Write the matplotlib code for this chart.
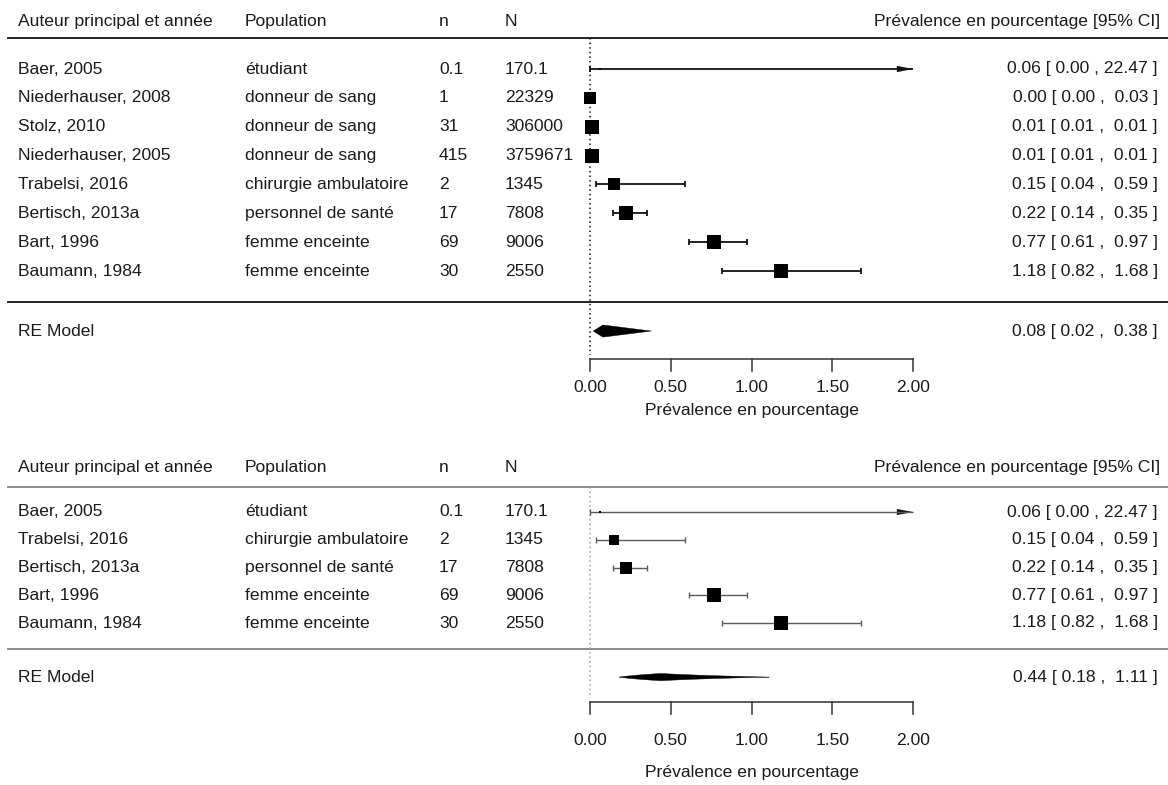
import matplotlib
matplotlib.use("Agg")
import numpy as np
import matplotlib.pyplot as plt
from matplotlib.patches import Polygon
from matplotlib.transforms import blended_transform_factory

plt.rcParams['font.family'] = ['Liberation Sans', 'DejaVu Sans']

# --- données : panneau du haut (toutes les études)
auteurs_1 = ["Baer, 2005", "Niederhauser, 2008", "Stolz, 2010", "Niederhauser, 2005",
             "Trabelsi, 2016", "Bertisch, 2013a", "Bart, 1996", "Baumann, 1984"]
population_1 = ["étudiant", "donneur de sang", "donneur de sang", "donneur de sang",
                "chirurgie ambulatoire", "personnel de santé", "femme enceinte", "femme enceinte"]
n_1 = ["0.1", "1", "31", "415", "2", "17", "69", "30"]
N_1 = ["170.1", "22329", "306000", "3759671", "1345", "7808", "9006", "2550"]
est_1 = [0.06, 0.00, 0.01, 0.01, 0.15, 0.22, 0.77, 1.18]
lo_1 = [0.00, 0.00, 0.01, 0.01, 0.04, 0.14, 0.61, 0.82]
hi_1 = [22.47, 0.03, 0.01, 0.01, 0.59, 0.35, 0.97, 1.68]
poids_1 = [0.2, 0.8, 0.95, 0.95, 0.88, 0.95, 0.98, 1.0]
re_1 = (0.08, 0.02, 0.38)

# --- données : panneau du bas (sans les donneurs de sang)
auteurs_2 = ["Baer, 2005", "Trabelsi, 2016", "Bertisch, 2013a", "Bart, 1996", "Baumann, 1984"]
population_2 = ["étudiant", "chirurgie ambulatoire", "personnel de santé",
                "femme enceinte", "femme enceinte"]
n_2 = ["0.1", "2", "17", "69", "30"]
N_2 = ["170.1", "1345", "7808", "9006", "2550"]
est_2 = [0.06, 0.15, 0.22, 0.77, 1.18]
lo_2 = [0.00, 0.04, 0.14, 0.61, 0.82]
hi_2 = [22.47, 0.59, 0.35, 0.97, 1.68]
poids_2 = [0.2, 0.75, 0.93, 0.98, 0.97]
re_2 = (0.44, 0.18, 1.11)

ticks = [0, 0.5, 1, 1.5, 2]
tick_labels = ["0.00", "0.50", "1.00", "1.50", "2.00"]
entetes = ["Auteur principal et année", "Population", "n", "N"]
col_x = [0.0154, 0.2098, 0.3759, 0.4324]
FS = 12.6
W, H = 1168, 785
PX_UNIT = 161.5   # pixels par point de pourcentage
X0 = 590


def panneau(ax, auteurs, pops, n, N, est, lo, hi, poids, re, grey, lay):
    k = len(auteurs)
    txt = '#1a1a1a'
    ligne = '#8a8a8a' if grey else '#222222'
    ci_col = '#5a5a5a' if grey else '#111111'
    dot_col = '#a0a0a0' if grey else '#111111'
    lw_ci = 1.0 if grey else 1.3
    tr = blended_transform_factory(ax.transAxes, ax.transData)
    y_head, y_top, y_sep, y_re, y_ax, d_lab, d_xl, hh = lay

    # en-têtes
    for lab, x in zip(entetes, col_x):
        ax.text(x, y_head, lab, transform=tr, ha='left', va='center', fontsize=FS, color=txt)
    ax.text(0.9932, y_head, "Prévalence en pourcentage [95% CI]", transform=tr,
            ha='right', va='center', fontsize=FS, color=txt)
    ax.plot([0.007, 1.0], [y_top, y_top], transform=tr, color=ligne, lw=1.4)
    ax.plot([0.007, 1.0], [y_sep, y_sep], transform=tr, color=ligne, lw=1.4)

    # ligne de référence
    ax.plot([0, 0], [y_top, y_ax - 0.15], color=dot_col, lw=1.1, ls=(0, (1, 2)))

    for i in range(k):
        for col, x in zip([auteurs, pops, n, N], col_x):
            ax.text(x, i, col[i], transform=tr, ha='left', va='center', fontsize=FS, color=txt)
        ax.text(0.9914, i, f"{est[i]:.2f} [{lo[i]:>5.2f} , {hi[i]:>5.2f} ]", transform=tr,
                ha='right', va='center', fontsize=FS, color=txt)
        h = min(hi[i], 2.0)
        ax.plot([lo[i], h], [i, i], color=ci_col, lw=lw_ci, solid_capstyle='butt')
        ax.plot([lo[i]], [i], marker='|', ms=5, mew=lw_ci, color=ci_col)
        if hi[i] > 2.0:
            ax.add_patch(Polygon([[2.0, i], [1.9, i - 0.11], [1.9, i + 0.11]],
                                 closed=True, color='#111111', lw=0))
        else:
            ax.plot([h], [i], marker='|', ms=5, mew=lw_ci, color=ci_col)
        ax.plot([est[i]], [i], marker='s', ms=10.0 * poids[i], color='black', mew=0)

    # modèle à effets aléatoires
    e, l, u = re
    if grey:
        # losange sur l'échelle log, retransformé
        xs_l = np.geomspace(l, e, 40)
        xs_u = np.geomspace(e, u, 40)
        up_l = hh * np.log(xs_l / l) / np.log(e / l)
        up_u = hh * np.log(u / xs_u) / np.log(u / e)
        xs = np.concatenate([xs_l, xs_u])
        hs = np.concatenate([up_l, up_u])
        pts = np.column_stack([np.concatenate([xs, xs[::-1]]),
                               np.concatenate([y_re - hs, (y_re + hs)[::-1]])])
    else:
        pts = [[l, y_re], [e, y_re - hh], [u, y_re], [e, y_re + hh]]
    ax.add_patch(Polygon(pts, closed=True, color='black', lw=0.3))
    ax.text(col_x[0], y_re, "RE Model", transform=tr, ha='left', va='center',
            fontsize=FS, color=txt)
    ax.text(0.9914, y_re, f"{e:.2f} [{l:>5.2f} , {u:>5.2f} ]", transform=tr,
            ha='right', va='center', fontsize=FS, color=txt)

    # axe des x
    ax.plot([ticks[0], ticks[-1]], [y_ax, y_ax], color='#333333', lw=1.1)
    for t, lab in zip(ticks, tick_labels):
        ax.plot([t, t], [y_ax, y_ax + 0.42], color='#333333', lw=1.1)
        ax.text(t, y_ax + d_lab, lab, ha='center', va='center', fontsize=FS, color=txt)
    ax.text(1.0, y_ax + d_xl, "Prévalence en pourcentage", ha='center', va='center',
            fontsize=FS, color=txt)


fig = plt.figure(figsize=(W / 100, H / 100), dpi=100)
xlim = (-X0 / PX_UNIT, (W - X0) / PX_UNIT)

# panneau du haut : pixels 0-430, ligne 0 à y=69, 28.86 px par ligne
ax1 = fig.add_axes([0, 1 - 430 / H, 1, 430 / H])
ax1.set_xlim(xlim)
ax1.set_ylim((430 - 69) / 28.86, -69 / 28.86)
ax1.axis('off')
k1 = len(auteurs_1)
panneau(ax1, auteurs_1, population_1, n_1, N_1, est_1, lo_1, hi_1, poids_1, re_1, False,
        (-1.65, -1.07, k1 + 0.07, k1 + 1.08, k1 + 2.05, 1.0, 1.8, 0.21))

# panneau du bas : pixels 430-785, ligne 0 à y=512, 27.75 px par ligne
ax2 = fig.add_axes([0, 0, 1, 355 / H])
ax2.set_xlim(xlim)
ax2.set_ylim((785 - 512) / 27.75, (430 - 512) / 27.75)
ax2.axis('off')
k2 = len(auteurs_2)
panneau(ax2, auteurs_2, population_2, n_2, N_2, est_2, lo_2, hi_2, poids_2, re_2, True,
        (-1.59, -0.9, k2 - 0.06, k2 + 0.95, k2 + 1.85, 1.37, 2.55, 0.13))

fig.savefig("out.png", dpi=100, facecolor='white')
